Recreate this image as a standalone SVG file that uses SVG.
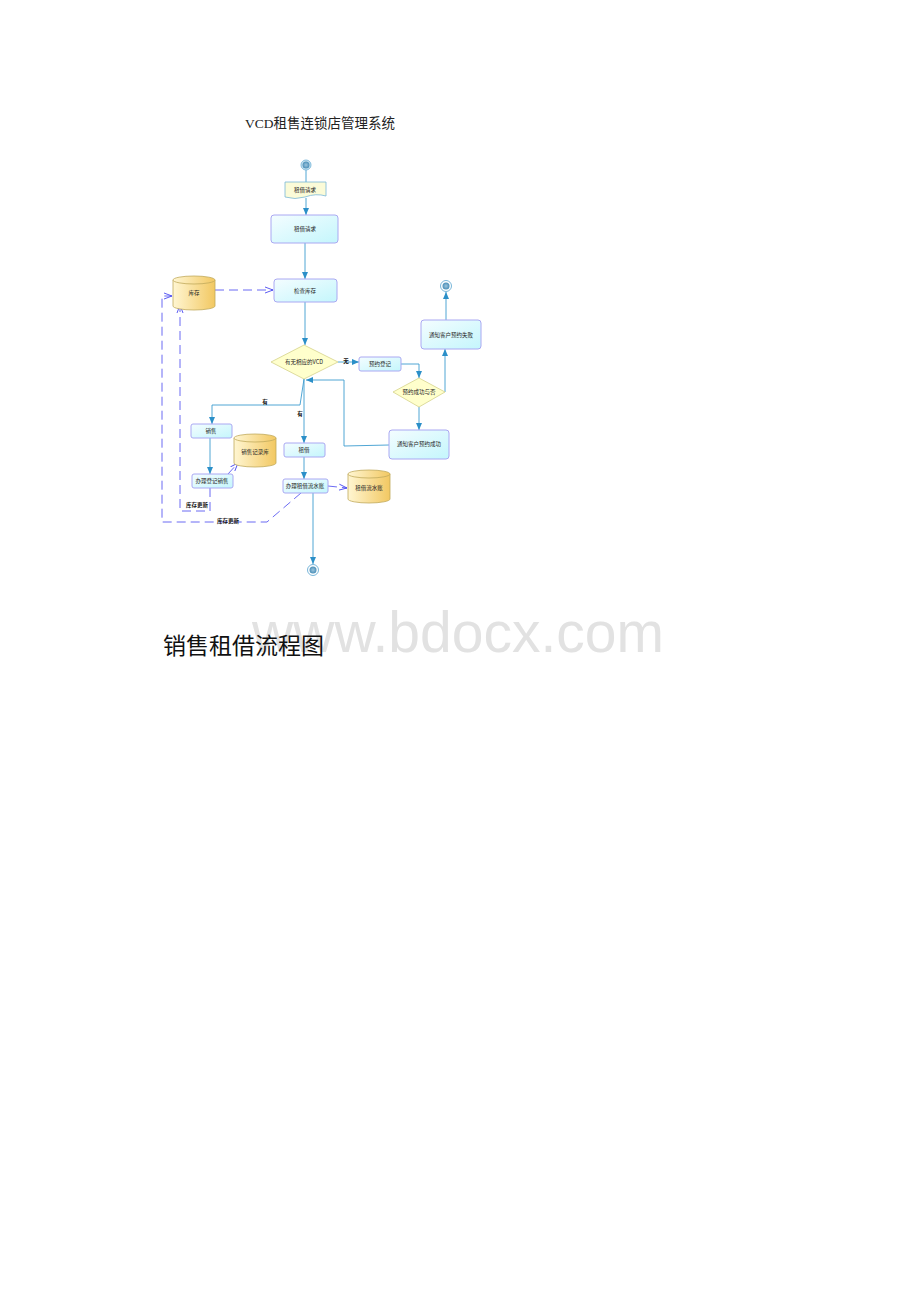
<svg xmlns="http://www.w3.org/2000/svg" width="920" height="1302" viewBox="0 0 920 1302">
<defs>
<linearGradient id="gBox" x1="0" y1="0" x2="1" y2="1"><stop offset="0" stop-color="#f4fdff"/><stop offset="1" stop-color="#c4f6fc"/></linearGradient>
<linearGradient id="gCyl" x1="0" y1="0" x2="1" y2="0"><stop offset="0" stop-color="#fff6d2"/><stop offset="1" stop-color="#f2c862"/></linearGradient>
<radialGradient id="gDot"><stop offset="0" stop-color="#9cc4dc"/><stop offset="1" stop-color="#4a8fb8"/></radialGradient>
<marker id="aS" markerWidth="8" markerHeight="8" refX="7" refY="4" orient="auto" markerUnits="userSpaceOnUse"><path d="M0,1 L7,4 L0,7 Z" fill="#2b8fc8"/></marker>
<marker id="aD" markerWidth="10" markerHeight="8" refX="8" refY="4" orient="auto" markerUnits="userSpaceOnUse"><path d="M0,1 L8,4 L0,7" fill="none" stroke="#4a4af0" stroke-width="0.9"/></marker>
<style>
.box{fill:url(#gBox);stroke:#aaa8f2;stroke-width:1}
.cyl{fill:url(#gCyl);stroke:#c0aa5c;stroke-width:0.8}
.dia{fill:#ffffcc;stroke:#d4d28a;stroke-width:0.8}
.t{font-family:"Noto Sans CJK SC",sans-serif;font-size:5.5px;fill:#222;text-anchor:middle;dominant-baseline:central}
.lbl{font-family:"Noto Sans CJK SC",sans-serif;font-size:5.5px;font-weight:bold;fill:#111;text-anchor:middle;dominant-baseline:central}
.s{fill:none;stroke:#3c9ccf;stroke-width:0.9}
.d{fill:none;stroke:#5a5af2;stroke-width:0.9;stroke-dasharray:9,5}
</style>
</defs>
<rect width="920" height="1302" fill="#ffffff"/>
<text x="320" y="128" font-family="'Liberation Serif','Noto Sans CJK SC',serif" font-size="13.5" fill="#222" text-anchor="middle">VCD租售连锁店管理系统</text>

<g id="connectors">
<path class="s" d="M306,170 V182" />
<path class="s" d="M306,198 V215" marker-end="url(#aS)"/>
<path class="s" d="M305,243 V279" marker-end="url(#aS)"/>
<path class="s" d="M305,302 V345" marker-end="url(#aS)"/>
<path class="s" d="M338,362 H359" marker-end="url(#aS)"/>
<path class="s" d="M401,364 H419 V378" marker-end="url(#aS)"/>
<path class="s" d="M445,392 V349" marker-end="url(#aS)"/>
<path class="s" d="M446,320 V292" marker-end="url(#aS)"/>
<path class="s" d="M419,407 V430" marker-end="url(#aS)"/>
<path class="s" d="M389,445 L344,446 V380 H306" marker-end="url(#aS)"/>
<path class="s" d="M304,379 L300,405 H212 V424" marker-end="url(#aS)"/>
<path class="s" d="M304,379 V443" marker-end="url(#aS)"/>
<path class="s" d="M210,438 V474" marker-end="url(#aS)"/>
<path class="s" d="M304,457 V479" marker-end="url(#aS)"/>
<path class="s" d="M313,493 V564" marker-end="url(#aS)"/>
<path class="d" d="M215,290 H273" marker-end="url(#aD)"/>
<path class="d" d="M228,474 L238,463" marker-end="url(#aD)"/>
<path class="d" d="M328,486 L347,488" marker-end="url(#aD)"/>
<path class="d" d="M210,488 V511 H180 V305" marker-end="url(#aD)"/>
<path class="d" d="M301,493 L267,522 H162 V296 H172" marker-end="url(#aD)"/>
<text class="lbl" x="346" y="361">无</text>
<text class="lbl" x="265" y="402">有</text>
<text class="lbl" x="300" y="414">有</text>
<text class="lbl" x="197" y="505">库存更新</text>
<text class="lbl" x="228" y="521">库存更新</text>
</g>

<g id="start"><circle cx="306" cy="165" r="5" fill="#cfe6f2" stroke="#6aaed6" stroke-width="0.8"/><circle cx="306" cy="165" r="3.5" fill="url(#gDot)"/></g>
<g id="doc"><path d="M285,182 H326 V196 Q316,193 305,197 Q295,200 285,197 Z" fill="#fbfbd8" stroke="#7ab8d8" stroke-width="0.8"/><text class="t" x="305" y="190">租借请求</text></g>
<g id="req"><rect class="box" x="271" y="215" width="67" height="28" rx="3"/><text class="t" x="305" y="229">租借请求</text></g>
<g id="check"><rect class="box" x="274" y="279" width="63" height="23" rx="3"/><text class="t" x="305" y="291">检查库存</text></g>
<g id="stock"><path class="cyl" d="M173,280 V306 A21,4 0 0 0 215,306 V280"/><ellipse class="cyl" cx="194" cy="280" rx="21" ry="4"/><text class="t" x="194" y="293">库存</text></g>
<g id="d1"><path class="dia" d="M304,345 L338,362 L304,379 L271,362 Z"/><text class="t" x="304" y="362">有无相应的VCD</text></g>
<g id="reserve"><rect class="box" x="359" y="357" width="42" height="14" rx="2"/><text class="t" x="380" y="364">预约登记</text></g>
<g id="d2"><path class="dia" d="M419,378 L445,392 L419,407 L393,392 Z"/><text class="t" x="419" y="392">预约成功与否</text></g>
<g id="fail"><rect class="box" x="421" y="320" width="60" height="29" rx="3"/><text class="t" x="451" y="335">通知客户预约失败</text></g>
<g id="end1"><circle cx="446" cy="286" r="5.5" fill="#ffffff" stroke="#6aaed6" stroke-width="0.9"/><circle cx="446" cy="286" r="3.5" fill="url(#gDot)"/></g>
<g id="ok"><rect class="box" x="389" y="430" width="60" height="29" rx="3"/><text class="t" x="419" y="444">通知客户预约成功</text></g>
<g id="sale"><rect class="box" x="191" y="424" width="41" height="14" rx="2"/><text class="t" x="211" y="431">销售</text></g>
<g id="saleReg"><rect class="box" x="192" y="474" width="41" height="14" rx="2"/><text class="t" x="212" y="481">办理登记销售</text></g>
<g id="saleDB"><path class="cyl" d="M234,438 V463 A21,4 0 0 0 276,463 V438"/><ellipse class="cyl" cx="255" cy="438" rx="21" ry="4"/><text class="t" x="255" y="452">销售记录库</text></g>
<g id="rent"><rect class="box" x="284" y="443" width="41" height="14" rx="2"/><text class="t" x="304" y="450">租借</text></g>
<g id="rentReg"><rect class="box" x="283" y="479" width="45" height="14" rx="2"/><text class="t" x="305" y="486">办理租借流水账</text></g>
<g id="rentDB"><path class="cyl" d="M348,474 V499 A21,4 0 0 0 390,499 V474"/><ellipse class="cyl" cx="369" cy="474" rx="21" ry="4"/><text class="t" x="369" y="488">租借流水账</text></g>
<g id="end2"><circle cx="313" cy="570" r="5.5" fill="#ffffff" stroke="#6aaed6" stroke-width="0.9"/><circle cx="313" cy="570" r="3.5" fill="url(#gDot)"/></g>

<text x="458" y="652" font-family="'Liberation Sans',sans-serif" font-size="57" fill="#e2e2e2" text-anchor="middle">www.bdocx.com</text>
<text x="163" y="654" font-family="'Liberation Serif','Noto Sans CJK SC',serif" font-size="23" fill="#111">销售租借流程图</text>
</svg>
